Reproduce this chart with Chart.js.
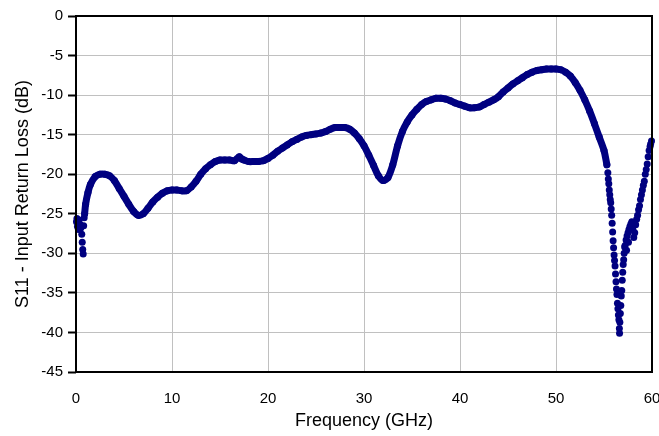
<!DOCTYPE html>
<html>
<head>
<meta charset="utf-8">
<script src="https://cdn.jsdelivr.net/npm/chart.js@4/dist/chart.umd.min.js"></script>
<style>
  html, body { margin: 0; padding: 0; background: #fff; }
  #wrap { width: 659px; height: 436px; }
</style>
</head>
<body>
<div id="wrap"><canvas id="canvasS11"></canvas></div>
<script>
// main smooth part of the S11 trace (GHz, dB)
var curveFreq = [0.9, 1.0, 1.25, 1.5, 2.0, 2.5, 3.0, 3.5, 4.0, 4.5, 5.0, 5.5, 6.0, 6.5, 7.0, 7.5, 8.0, 8.5, 9.0, 9.5,
  10.0, 10.5, 11.0, 11.5, 12.0, 12.5, 13.0, 13.5, 14.0, 14.5, 15.0, 15.5, 16.0, 16.5, 17.0, 17.3, 17.5, 18.0, 18.5, 19.0, 19.5,
  20.0, 20.5, 21.0, 21.5, 22.0, 22.5, 23.0, 23.5, 24.0, 24.5, 25.0, 25.5, 26.0, 26.5, 27.0, 27.5, 28.0, 28.5, 29.0, 29.5,
  30.0, 30.5, 31.0, 31.5, 32.0, 32.5, 33.0, 33.5, 34.0, 34.5, 35.0, 35.5, 36.0, 36.5, 37.0, 37.5, 38.0, 38.5, 39.0, 39.5,
  40.0, 40.5, 41.0, 41.5, 42.0, 42.5, 43.0, 43.5, 44.0, 44.5, 45.0, 45.5, 46.0, 46.5, 47.0, 47.5, 48.0, 48.5, 49.0, 49.5,
  50.0, 50.5, 51.0, 51.5, 52.0, 52.5, 53.0, 53.5, 54.0, 54.5, 55.0, 55.3];
var curveS11 = [-25.0, -23.8, -22.3, -21.3, -20.3, -20.0, -20.0, -20.2, -20.8, -21.8, -22.8, -23.8, -24.7, -25.2, -25.0, -24.3, -23.5, -22.9, -22.4, -22.1,
  -22.0, -22.0, -22.1, -22.1, -21.6, -20.9, -20.0, -19.3, -18.8, -18.4, -18.2, -18.2, -18.2, -18.3, -17.8, -18.1, -18.2, -18.4, -18.4, -18.4, -18.3,
  -18.0, -17.6, -17.1, -16.7, -16.3, -15.9, -15.6, -15.3, -15.1, -15.0, -14.9, -14.8, -14.6, -14.3, -14.1, -14.1, -14.1, -14.3, -14.8, -15.5,
  -16.4, -17.6, -18.9, -20.2, -20.8, -20.4, -18.8, -16.4, -14.6, -13.4, -12.5, -11.8, -11.2, -10.8, -10.6, -10.4, -10.4, -10.5, -10.7, -11.0,
  -11.2, -11.4, -11.6, -11.6, -11.5, -11.2, -10.9, -10.6, -10.2, -9.6, -9.1, -8.6, -8.2, -7.8, -7.4, -7.1, -6.9, -6.8, -6.7, -6.7,
  -6.7, -6.8, -7.1, -7.6, -8.4, -9.4, -10.6, -12.0, -13.6, -15.3, -17.0, -18.8];

// scattered points at low end and in the deep resonance near 56-60 GHz
var dotFreq = [0.05, 0.1, 0.15, 0.25, 0.3, 0.4, 0.5, 0.6, 0.65, 0.7, 0.75, 0.8, 0.85,
  55.4, 55.45, 55.5, 55.55, 55.6, 55.65, 55.7, 55.75, 55.8, 55.85, 55.9, 55.95, 56.0, 56.05, 56.1, 56.15, 56.2, 56.25, 56.3,
  56.35, 56.4, 56.45, 56.5, 56.55, 56.6, 56.62,
  56.65, 56.7, 56.75, 56.8, 56.85, 56.9, 56.95, 57.0, 57.05, 57.1, 57.15, 57.2, 57.3, 57.35, 57.4, 57.5, 57.55, 57.6, 57.7, 57.8, 57.9,
  58.0, 58.1, 58.2, 58.3, 58.4, 58.5, 58.6, 58.7, 58.8, 58.9, 59.0, 59.1, 59.2, 59.3, 59.4, 59.5, 59.6, 59.7, 59.8, 59.85, 59.95];
var dotS11 = [-26.0, -25.6, -26.6, -27.0, -25.8, -26.3, -26.8, -27.6, -28.6, -29.5, -30.1, -26.5, -25.5,
  -19.8, -20.6, -21.2, -22.0, -22.6, -23.2, -23.6, -24.4, -25.2, -26.2, -27.3, -28.4, -29.3, -30.2, -30.9, -31.6, -32.6, -33.6, -34.5,
  -35.2, -36.3, -37.0, -37.8, -38.4, -39.5, -40.1,
  -38.7, -37.6, -36.6, -35.4, -34.7, -33.4, -32.4, -31.4, -30.8, -30.0, -29.2, -29.0, -28.3, -29.6, -27.8, -27.4, -28.6, -27.0, -26.6, -26.3, -26.0,
  -27.0, -28.0, -27.4, -26.4, -25.7, -25.2, -24.5, -24.0, -23.2, -22.6, -22.0, -21.4, -20.9, -20.0, -19.4, -18.7, -17.8, -17.0, -16.5, -16.2, -15.8];

var navy = "#000080";

function toXY(xs, ys)
{
  var out = [];
  for(var i = 0; i < xs.length; i++)
    out.push({x: xs[i], y: ys[i]});
  return out;
}

// black frame round the plot area
var frame = {
  id: 'frame',
  afterDraw: function(chart) {
    var a = chart.chartArea, c = chart.ctx;
    c.save();
    c.strokeStyle = "#000";
    c.lineWidth = 2;
    c.strokeRect(a.left, a.top, a.right - a.left, a.bottom - a.top);
    c.restore();
  }
};

var ctx = document.getElementById("canvasS11").getContext("2d");
window.myChart = new Chart(ctx, {
  type: 'scatter',
  data: {
    datasets: [
      {
        data: toXY(curveFreq, curveS11),
        showLine: true,
        borderColor: navy,
        borderWidth: 7,
        borderCapStyle: 'round',
        borderJoinStyle: 'round',
        tension: 0.3,
        pointRadius: 3.5,
        pointBackgroundColor: navy,
        pointBorderWidth: 0
      },
      {
        data: toXY(dotFreq, dotS11),
        showLine: false,
        pointRadius: 3.5,
        pointBackgroundColor: navy,
        pointBorderWidth: 0
      }
    ]
  },
  options: {
    responsive: true,
    maintainAspectRatio: false,
    animation: false,
    clip: false,
    layout: { padding: { left: 0, right: 7, top: 16, bottom: 0 } },
    plugins: { legend: { display: false }, tooltip: { enabled: false } },
    scales: {
      x: {
        type: 'linear', min: 0, max: 60,
        afterFit: function(s) { s.height = 64; s.paddingRight = 0; s.paddingLeft = 0; },
        ticks: { stepSize: 10, padding: 18, color: "#000", font: { family: "Liberation Sans", size: 15 } },
        grid: { color: "#c0c0c0", lineWidth: 1, drawTicks: false },
        border: { display: false },
        title: { display: true, text: "Frequency (GHz)", color: "#000",
                 font: { family: "Liberation Sans", size: 18 }, padding: { top: 0, bottom: 4 } }
      },
      y: {
        type: 'linear', min: -45, max: 0,
        afterFit: function(s) { s.width = 76; s.paddingTop = 0; s.paddingBottom = 0; },
        ticks: { stepSize: 5, padding: 5, color: "#000", font: { family: "Liberation Sans", size: 15 } },
        grid: { color: "#c0c0c0", lineWidth: 1, tickLength: 8, tickColor: "#000", tickWidth: 2 },
        border: { display: false },
        title: { display: true, text: "S11 - Input Return Loss (dB)", color: "#000",
                 font: { family: "Liberation Sans", size: 18 }, padding: { top: 12, bottom: 0 } }
      }
    }
  },
  plugins: [frame]
});
</script>
</body>
</html>
